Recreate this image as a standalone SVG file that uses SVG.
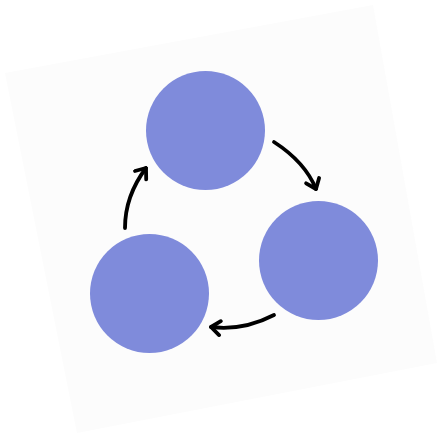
<svg xmlns="http://www.w3.org/2000/svg" width="439" height="437" viewBox="0 0 439 437">
  <defs>
    <style>
      .node { fill: #7f8bdb; }
      .conn { fill: none; stroke: #000; stroke-width: 3.8; stroke-linecap: round; marker-end: url(#head); }
    </style>
    <marker id="head" markerUnits="userSpaceOnUse" viewBox="-12 -9 14 18" markerWidth="14" markerHeight="18" refX="0" refY="0" orient="auto">
      <path d="M-9,-7 L0,0 L-9,7" fill="none" stroke="#000" stroke-width="3.8" stroke-linecap="round" stroke-linejoin="round"/>
    </marker>
  </defs>
  <rect width="439" height="437" fill="#ffffff"/>
  <polygon points="5,73 373,5 437,363 77,433" fill="#fcfcfc"/>
  <g id="node-top"><circle class="node" cx="205.5" cy="130.5" r="59.5"/></g>
  <g id="node-right"><circle class="node" cx="318.5" cy="260.5" r="59.5"/></g>
  <g id="node-left"><circle class="node" cx="149.5" cy="293.5" r="59.5"/></g>
  <g id="connectors">
    <path class="conn" d="M274,142 Q305,162 316,189"/>
    <path class="conn" d="M274,315 Q243,331 211,327"/>
    <path class="conn" d="M125,228 Q125,196 146,168"/>
  </g>
</svg>
